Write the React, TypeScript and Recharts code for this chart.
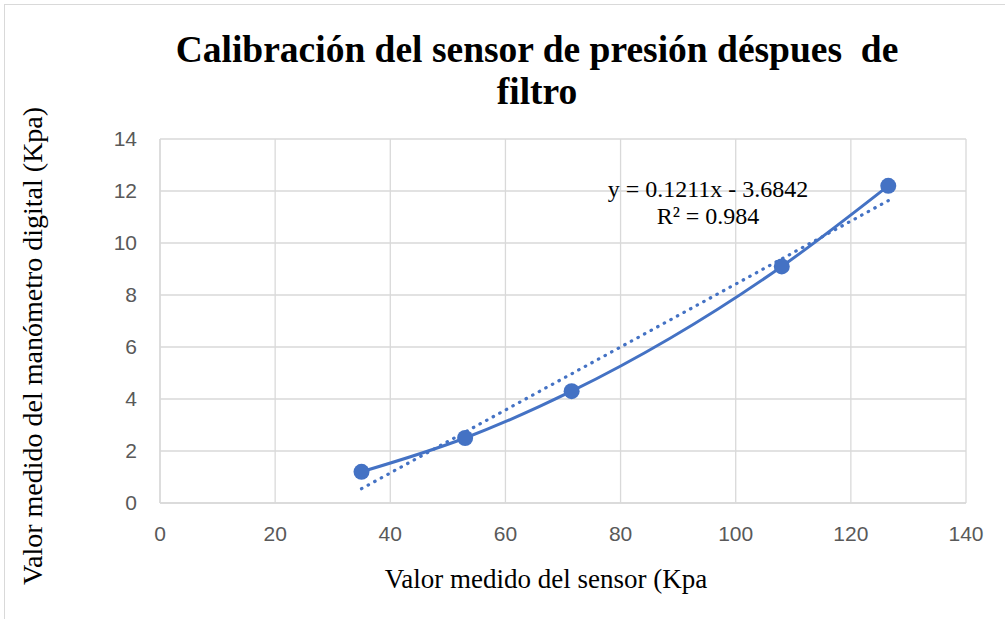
import React from 'react'
import {
  ComposedChart,
  Line,
  XAxis,
  YAxis,
  CartesianGrid,
  Label
} from 'recharts'

// lecturas: sensor (x) vs manómetro digital (y), en Kpa
const sensorValues = [35, 53, 71.5, 108, 126.5]
const gaugeValues = [1.2, 2.5, 4.3, 9.1, 12.2]

// extremos de la línea de tendencia lineal
const trendX = [35, 126.5]
const trendY = [0.55, 11.63]

const xTicks = [0, 20, 40, 60, 80, 100, 120, 140]
const yTicks = [0, 2, 4, 6, 8, 10, 12, 14]

const titleLines = ['Calibración del sensor de presión déspues  de', 'filtro']
const trendLabel = ['y = 0.1211x - 3.6842', 'R² = 0.984']
const xTitle = 'Valor medido del sensor (Kpa'
const yTitle = 'Valor medido del manómetro digital (Kpa)'

const measured = sensorValues.map((x, i) => ({ x, y: gaugeValues[i] }))
const trend = trendX.map((x, i) => ({ x, y: trendY[i] }))

const BLUE = '#4472c4'
const GRID = '#d9d9d9'
const serif = '"Liberation Serif", "Times New Roman", serif'
const sans = '"Liberation Sans", Arial, sans-serif'

const tickStyle = { fontFamily: sans, fontSize: 21, fill: '#595959' }

const App = () => {
  return (
    <div
      style={{
        position: 'absolute',
        left: 0,
        top: 0,
        width: 1005,
        height: 619,
        overflow: 'hidden',
        background: '#fff'
      }}
    >
      <div
        style={{
          position: 'absolute',
          left: 4,
          top: 4,
          width: 1010,
          height: 630,
          border: `1px solid ${GRID}`
        }}
      />
      <ComposedChart
        width={1005}
        height={619}
        margin={{ top: 139, right: 39, bottom: 76, left: 0 }}
        style={{ position: 'absolute', left: 0, top: 0 }}
      >
        <CartesianGrid stroke={GRID} strokeWidth={1.3} />
        <XAxis
          type="number"
          dataKey="x"
          domain={[0, 140]}
          ticks={xTicks}
          height={40}
          tickLine={false}
          axisLine={{ stroke: GRID, strokeWidth: 1.3 }}
          tick={tickStyle}
          tickMargin={17}
          interval={0}
        >
          <Label
            content={() => (
              <text
                x={546}
                y={588}
                textAnchor="middle"
                fontFamily={serif}
                fontSize={27}
                fill="#000"
              >
                {xTitle}
              </text>
            )}
          />
        </XAxis>
        <YAxis
          type="number"
          domain={[0, 14]}
          ticks={yTicks}
          width={160}
          tickLine={false}
          axisLine={{ stroke: GRID, strokeWidth: 1.3 }}
          tick={tickStyle}
          tickMargin={17}
          interval={0}
        >
          <Label
            content={() => (
              <text
                x={0}
                y={0}
                transform="translate(42 346) rotate(-90)"
                textAnchor="middle"
                fontFamily={serif}
                fontSize={28}
                fill="#000"
              >
                {yTitle}
              </text>
            )}
          />
        </YAxis>
        <Line
          data={measured}
          dataKey="y"
          type="monotone"
          stroke={BLUE}
          strokeWidth={3}
          dot={{ r: 8, fill: BLUE, stroke: BLUE, strokeWidth: 0 }}
          activeDot={false}
          isAnimationActive={false}
        />
        <Line
          data={trend}
          dataKey="y"
          type="linear"
          stroke={BLUE}
          strokeWidth={3.2}
          strokeDasharray="0.5 7"
          strokeLinecap="round"
          dot={false}
          activeDot={false}
          isAnimationActive={false}
        />
      </ComposedChart>
      <svg
        width={1005}
        height={619}
        style={{ position: 'absolute', left: 0, top: 0, pointerEvents: 'none' }}
      >
        {titleLines.map((line, i) => (
          <text
            key={line}
            x={537}
            y={62 + i * 42}
            textAnchor="middle"
            fontFamily={serif}
            fontWeight="bold"
            fontSize={37.5}
            fill="#000"
            style={{ whiteSpace: 'pre' }}
          >
            {line}
          </text>
        ))}
        {trendLabel.map((line, i) => (
          <text
            key={line}
            x={708}
            y={197 + i * 27}
            textAnchor="middle"
            fontFamily={serif}
            fontSize={24}
            fill="#000"
          >
            {line}
          </text>
        ))}
      </svg>
    </div>
  )
}

export default App
